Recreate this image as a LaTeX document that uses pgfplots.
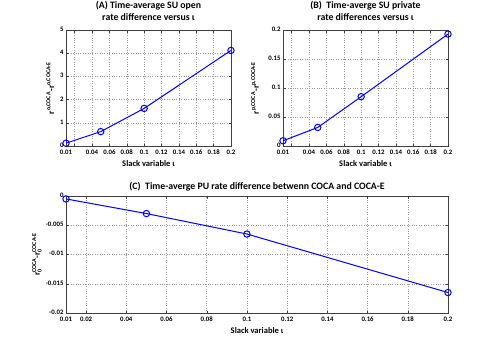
\documentclass[border=0pt]{standalone}
\usepackage{amsmath}
\usepackage{fontspec}
\setmainfont{Carlito}
\usepackage{pgfplots}
\pgfplotsset{compat=1.18}

\pgfplotsset{
  matstyle/.style={
    scale only axis,
    axis line style={draw=black!75,line width=.6pt},
    tick align=inside, tick style={draw=black!75,line width=.4pt},
    major tick length=2.5pt,
    xmajorgrids, ymajorgrids,
    grid style={dotted,draw=black!40,line width=.5pt},
    scaled x ticks=false, scaled y ticks=false,
    typeset ticklabels with strut,
    /pgf/number format/assume math mode=true,
    ticklabel style={font=\bfseries\fontsize{6.8}{7}\selectfont},
    yticklabel style={xshift=1pt},
    xlabel style={font=\bfseries\fontsize{8.5}{9}\selectfont, yshift=3pt},
    ylabel style={font=\bfseries\fontsize{9}{9}\selectfont, anchor=center},
    title style={font=\bfseries\fontsize{9.8}{11.5}\selectfont, align=center},
    xmin=0.01, xmax=0.2,
    xlabel={Slack variable ι},
  },
  dataline/.style={blue, line width=1pt, mark=o, mark size=3.2pt,
    mark options={line width=1pt}},
}

\begin{document}
\begin{tikzpicture}
\useasboundingbox (0,0) rectangle (497pt,346pt);

% (A) SU open rate difference
\begin{axis}[matstyle,
  at={(66pt,200pt)}, anchor=south west, width=165pt, height=116pt,
  ymin=0, ymax=5, ytick={0,1,2,3,4,5},
  xtick={0.01,0.02,0.04,0.06,0.08,0.1,0.12,0.14,0.16,0.18,0.2},
  xticklabels={0.01,,0.04,0.06,0.08,0.1,0.12,0.14,0.16,0.18,0.2},
  title style={yshift=0pt},
  title={(A) Time-average SU open\\rate difference versus ι},
  ylabel style={at={(axis description cs:-0.095,0.5)}},
  ylabel={r\textsuperscript{o,COCA}-r\textsuperscript{o,COCA-E}}]
\addplot[dataline] coordinates {(0.01,0.12) (0.05,0.62) (0.1,1.62) (0.2,4.12)};
\end{axis}

% (B) SU private rate difference
\begin{axis}[matstyle,
  at={(283pt,200pt)}, anchor=south west, width=165pt, height=116pt,
  ymin=0, ymax=0.2, ytick={0,0.05,0.1,0.15,0.2},
  yticklabels={0,0.05,0.1,0.15,0.2},
  xtick={0.01,0.02,0.04,0.06,0.08,0.1,0.12,0.14,0.16,0.18,0.2},
  xticklabels={0.01,,0.04,0.06,0.08,0.1,0.12,0.14,0.16,0.18,0.2},
  title style={yshift=0pt},
  title={(B)\ \ Time-averge SU private\\rate differences versus ι},
  ylabel style={at={(axis description cs:-0.17,0.5)}},
  ylabel={r\textsuperscript{p,COCA}-r\textsuperscript{p,COCA-E}}]
\addplot[dataline] coordinates {(0.01,0.009) (0.05,0.032) (0.1,0.085) (0.2,0.193)};
\end{axis}

% (C) PU rate difference
\begin{axis}[matstyle,
  at={(66pt,33pt)}, anchor=south west, width=382pt, height=117pt,
  ymin=-0.02, ymax=0, ytick={-0.02,-0.015,-0.01,-0.005,0},
  yticklabels={-0.02,-0.015,-0.01,-0.005,0},
  xtick={0.01,0.02,0.04,0.06,0.08,0.1,0.12,0.14,0.16,0.18,0.2},
  xticklabels={0.01,0.02,0.04,0.06,0.08,0.1,0.12,0.14,0.16,0.18,0.2},
  title style={yshift=-5pt},
  title={(C)\ \ Time-averge PU rate difference betwenn COCA and COCA-E},
  ylabel style={at={(axis description cs:-0.076,0.5)}},
  ylabel={r$_{\text{0}}^{\text{COCA}}$-r$_{\text{0}}^{\text{COCA-E}}$}]
\addplot[dataline] coordinates {(0.01,-0.0005) (0.05,-0.003) (0.1,-0.0065) (0.2,-0.0165)};
\end{axis}
\end{tikzpicture}
\end{document}
